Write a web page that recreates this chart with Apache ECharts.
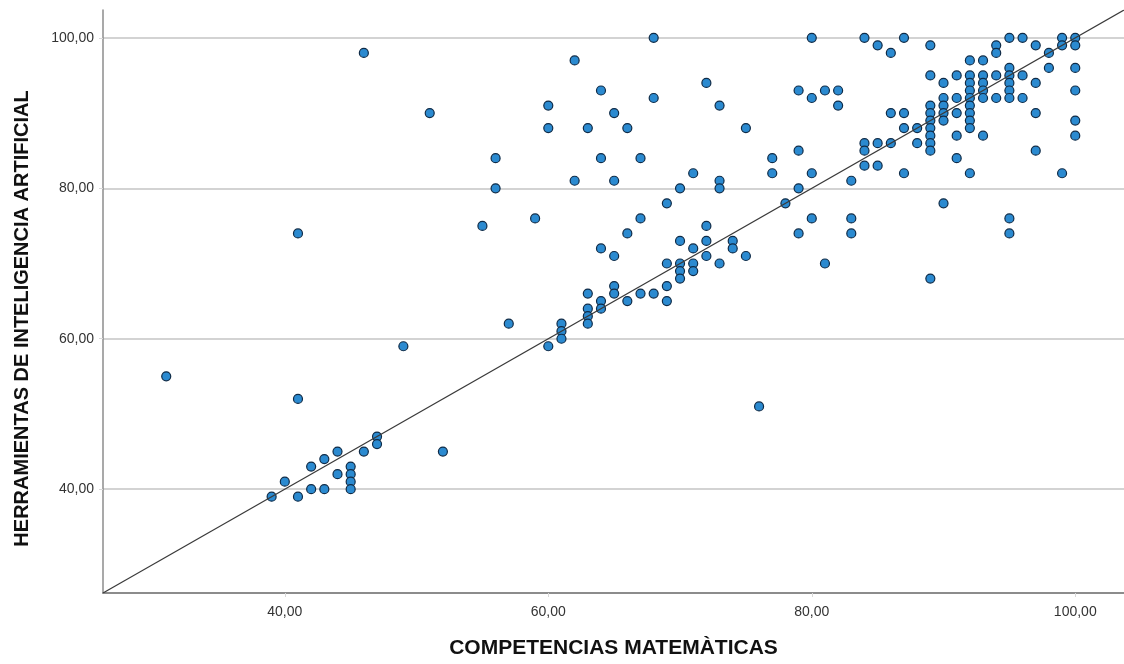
<!DOCTYPE html>
<html>
<head>
<meta charset="utf-8">
<script src="https://cdn.jsdelivr.net/npm/echarts@6/dist/echarts.min.js"></script>
<style>
html,body{margin:0;padding:0;background:#fff;}
#chart{width:1124px;height:664px;}
</style>
</head>
<body>
<div id="chart"></div>
<script>
// COMPETENCIAS MATEMÀTICAS (x) vs HERRAMIENTAS DE INTELIGENCIA ARTIFICIAL (y)
const points = [
  [31,55],[41,74],[41,52],[46,98],[51,90],[49,59],[52,45],[39,39],[40,41],[41,39],
  [42,43],[42,40],[43,44],[43,40],[44,45],[44,42],[45,43],[45,42],[45,41],[45,40],
  [46,45],[47,47],[47,46],
  [62,97],[64,93],[72,94],[60,91],[65,90],[68,92],[73,91],[60,88],[63,88],[66,88],
  [75,88],[56,84],[64,84],[67,84],[71,82],[62,81],[65,81],[73,81],[56,80],[70,80],
  [73,80],[69,78],[55,75],[59,76],[67,76],[66,74],[72,75],[70,73],[72,73],[74,73],
  [74,72],[71,72],[64,72],[65,71],[72,71],[75,71],[69,70],[70,70],[71,70],[73,70],
  [70,69],[71,69],[70,68],[69,67],[65,67],[65,66],[63,66],[67,66],[68,66],[64,65],
  [66,65],[69,65],[57,62],[60,59],[61,62],[61,61],[61,60],[63,64],[63,63],[63,62],
  [64,64],[76,51],[68,100],
  [80,100],[84,100],[87,100],[85,99],[86,98],[89,99],[89,95],[79,93],[80,92],[81,93],
  [82,93],[82,91],[86,90],[87,90],[87,88],[88,88],[89,91],[89,90],[89,89],[89,88],
  [89,87],[89,86],[89,85],[84,86],[84,85],[85,86],[86,86],[88,86],[84,83],[85,83],
  [87,82],[79,85],[77,84],[77,82],[80,82],[83,81],[79,80],[78,78],[80,76],[83,76],
  [79,74],[83,74],[81,70],[89,68],
  [92,82],[99,82],[90,78],[95,76],[95,74],
  [95,100],[96,100],[99,100],[100,100],[94,99],[94,98],[97,99],[99,99],[100,99],[98,98],
  [92,97],[93,97],[95,96],[98,96],[100,96],[91,95],[92,95],[93,95],[94,95],[95,95],
  [96,95],[90,94],[92,94],[93,94],[95,94],[97,94],[92,93],[93,93],[95,93],[100,93],
  [90,92],[91,92],[92,92],[93,92],[94,92],[95,92],[96,92],[90,91],[92,91],[90,90],
  [91,90],[92,90],[97,90],[90,89],[92,89],[100,89],[92,88],[91,87],[93,87],[100,87],
  [97,85],[91,84]
];
const axisMin = 26.2;
const axisMax = 103.7;
const xTicks = [40, 60, 80, 100];
const yTicks = [40, 60, 80, 100];
const refLine = [[axisMin, axisMin], [axisMax, axisMax]];
const xName = 'COMPETENCIAS MATEMÀTICAS';
const yName = 'HERRAMIENTAS DE INTELIGENCIA ARTIFICIAL';

const fmt = v => Number(v).toFixed(2).replace('.', ',');
const chart = echarts.init(document.getElementById('chart'), null, {renderer: 'canvas'});
chart.setOption({
  backgroundColor: '#ffffff',
  animation: false,
  grid: {left: 103, right: 0, top: 10, bottom: 71, containLabel: false},
  xAxis: {
    type: 'value', min: axisMin, max: axisMax,
    name: xName, nameLocation: 'middle', nameGap: 45,
    nameTextStyle: {fontFamily: 'Liberation Sans', fontSize: 21, fontWeight: 'bold', color: '#111'},
    axisLine: {show: true, lineStyle: {color: '#8c8c8c', width: 2}},
    axisTick: {show: true, length: 4, customValues: xTicks, lineStyle: {color: '#d8d8d8'}},
    axisLabel: {customValues: xTicks, formatter: fmt, margin: 12,
      fontFamily: 'Liberation Sans', fontSize: 14, color: '#333'},
    splitLine: {show: false}
  },
  yAxis: {
    type: 'value', min: axisMin, max: axisMax,
    name: yName, nameLocation: 'middle', nameGap: 71, nameRotate: 90,
    nameTextStyle: {fontFamily: 'Liberation Sans', fontSize: 20, fontWeight: 'bold', color: '#111', padding: [0, 34, 0, 0]},
    axisLine: {show: true, lineStyle: {color: '#8c8c8c', width: 1.5}},
    axisTick: {show: true, length: 4, customValues: yTicks, lineStyle: {color: '#d8d8d8'}},
    axisLabel: {customValues: yTicks, formatter: fmt, margin: 9,
      fontFamily: 'Liberation Sans', fontSize: 14, color: '#333'},
    splitLine: {show: true, lineStyle: {color: '#c4c4c4', width: 1.5}}
  },
  series: [
    {
      type: 'line', data: refLine, symbol: 'none', silent: true, z: 3,
      lineStyle: {color: '#3a3a3a', width: 1.2}
    },
    {
      type: 'scatter', data: points, symbol: 'circle', symbolSize: 9, z: 2,
      itemStyle: {color: '#2b8ad0', borderColor: '#0f2b47', borderWidth: 1.2, opacity: 1}
    }
  ]
});
</script>
</body>
</html>
